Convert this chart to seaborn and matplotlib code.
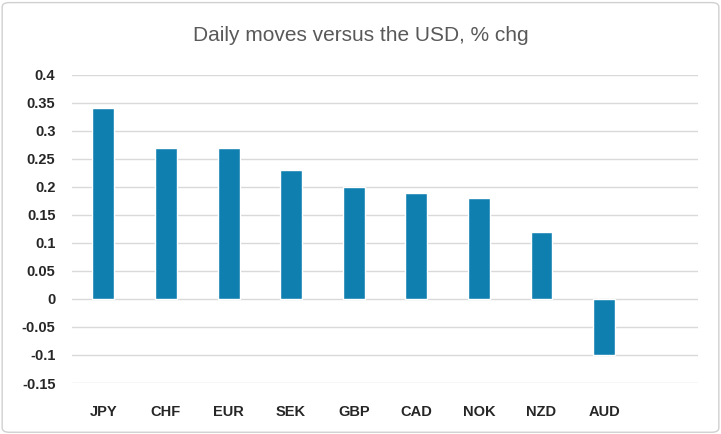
import matplotlib
matplotlib.use("Agg")
import matplotlib.pyplot as plt
import seaborn as sns
import pandas as pd
from matplotlib.patches import FancyBboxPatch

categories = ["JPY", "CHF", "EUR", "SEK", "GBP", "CAD", "NOK", "NZD", "AUD"]
values = [0.34, 0.27, 0.27, 0.23, 0.20, 0.19, 0.18, 0.12, -0.10]
yticks = [0.4, 0.35, 0.3, 0.25, 0.2, 0.15, 0.1, 0.05, 0, -0.05, -0.1, -0.15]

sns.set_style("white")
plt.rcParams['font.family'] = ['Liberation Sans', 'DejaVu Sans']

df = pd.DataFrame({"cur": categories, "val": values})
fig = plt.figure(figsize=(7.21, 4.34), dpi=100)
fig.patches.append(FancyBboxPatch((0.003, 0.004), 0.994, 0.99, boxstyle="round,pad=0,rounding_size=0.01",
                                  transform=fig.transFigure, fill=False, edgecolor="#d0d0d0", lw=1))
ax = fig.add_axes([0.1, 0.1175, 0.868, 0.71])
sns.barplot(data=df, x="cur", y="val", color="#0F7FB0", saturation=1, width=0.35, ax=ax, zorder=3)
ax.set_xlim(-0.5, 9.5)
ax.set_ylim(-0.15, 0.4)
ax.set_yticks(yticks)
ax.set_yticklabels([f"{t:g}" for t in yticks], fontsize=10.5, fontweight="bold")
for lab in ax.get_xticklabels():
    lab.set_fontweight("bold"); lab.set_fontsize(10.5)
ax.tick_params(axis="x", length=0, pad=16)
ax.tick_params(axis="y", length=0, pad=12)
ax.grid(axis="y", color="#d9d9d9", lw=1, zorder=0)
for s in ax.spines.values():
    s.set_visible(False)
ax.set_xlabel(""); ax.set_ylabel("")
fig.text(0.5, 0.905, "Daily moves versus the USD, % chg", ha="center", fontsize=15, color="#595959")
fig.savefig("out.png", dpi=100)
